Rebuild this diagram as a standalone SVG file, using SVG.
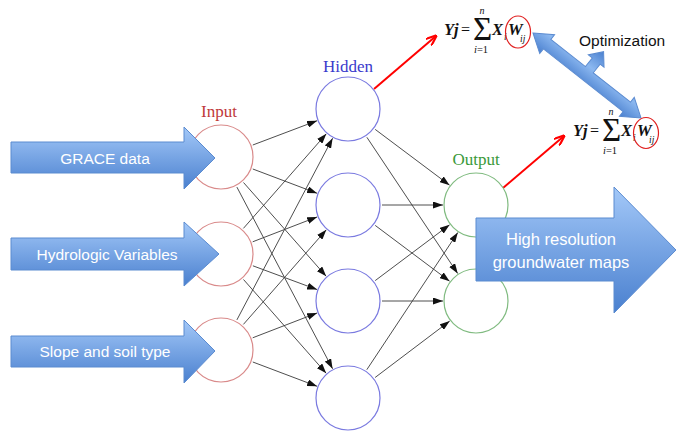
<svg xmlns="http://www.w3.org/2000/svg" width="676" height="431" viewBox="0 0 676 431">
<style>
.lbl{font-family:"Liberation Serif",serif;font-size:17px;text-anchor:middle}
.in{fill:none;stroke:#d98a8a;stroke-width:1.2}
.hid{fill:none;stroke:#7a7ae0;stroke-width:1.2}
.out{fill:none;stroke:#80bb80;stroke-width:1.2}
.conn{stroke:#3a3a3a;stroke-width:0.9;fill:none;marker-end:url(#ah)}
.red{stroke:#ff0000;stroke-width:2;fill:none;marker-end:url(#rh)}
.barrow{fill:url(#bg);stroke:#5b8bd0;stroke-width:1}
.atxt{font-family:"Liberation Sans",Arial,sans-serif;font-size:15.5px;fill:#ffffff;text-anchor:middle}
.m{font-family:"Liberation Serif",serif;fill:#111}
.mb{font-style:italic;font-weight:bold;font-size:16.5px}
.ms{font-style:italic;font-size:9.5px}
.sig{font-size:33px}
.circ{fill:none;stroke:#e02020;stroke-width:1.2}
</style>
<defs>
<linearGradient id="bg" x1="0" y1="0" x2="0" y2="1">
<stop offset="0" stop-color="#a3c8f8"/>
<stop offset="1" stop-color="#4a80cf"/>
</linearGradient>
<linearGradient id="bg2" x1="0" y1="0" x2="0" y2="1">
<stop offset="0" stop-color="#4a80cf"/>
<stop offset="0.5" stop-color="#8cb8f0"/>
<stop offset="1" stop-color="#4a80cf"/>
</linearGradient>
<marker id="ah" viewBox="0 0 10 7" refX="10" refY="3.5" markerWidth="10" markerHeight="7" markerUnits="userSpaceOnUse" orient="auto">
<path d="M0,0 L10,3.5 L0,7 z" fill="#111"/>
</marker>
<marker id="rh" viewBox="0 0 10 8" refX="9" refY="4" markerWidth="11" markerHeight="9" markerUnits="userSpaceOnUse" orient="auto">
<path d="M0,0 L10,4 L0,8" fill="none" stroke="#ff0000" stroke-width="2"/>
</marker>
</defs>
<rect width="676" height="431" fill="#ffffff"/>

<g id="connectors">
<line class="conn" x1="252.8" y1="145.0" x2="317.1" y2="120.7"/>
<line class="conn" x1="252.8" y1="169.0" x2="317.1" y2="193.3"/>
<line class="conn" x1="243.5" y1="182.5" x2="326.2" y2="276.3"/>
<line class="conn" x1="236.9" y1="187.1" x2="332.6" y2="368.8"/>
<line class="conn" x1="243.4" y1="228.4" x2="326.3" y2="133.8"/>
<line class="conn" x1="252.7" y1="241.8" x2="317.2" y2="216.9"/>
<line class="conn" x1="252.9" y1="265.8" x2="317.1" y2="289.6"/>
<line class="conn" x1="243.5" y1="279.5" x2="326.2" y2="373.3"/>
<line class="conn" x1="236.9" y1="319.9" x2="332.6" y2="138.2"/>
<line class="conn" x1="243.4" y1="324.4" x2="326.3" y2="229.8"/>
<line class="conn" x1="252.7" y1="337.8" x2="317.2" y2="312.9"/>
<line class="conn" x1="252.8" y1="362.0" x2="317.1" y2="386.3"/>
<line class="conn" x1="375.2" y1="129.4" x2="449.6" y2="185.2"/>
<line class="conn" x1="366.9" y1="137.3" x2="457.7" y2="273.5"/>
<line class="conn" x1="382" y1="205" x2="443" y2="205"/>
<line class="conn" x1="375.2" y1="225.4" x2="449.6" y2="281.2"/>
<line class="conn" x1="375.2" y1="280.6" x2="449.6" y2="224.8"/>
<line class="conn" x1="382" y1="301" x2="443" y2="301"/>
<line class="conn" x1="366.8" y1="369.7" x2="457.8" y2="232.5"/>
<line class="conn" x1="375.1" y1="377.5" x2="449.7" y2="321.1"/>
<line class="red" x1="374" y1="89" x2="436" y2="36"/>
<line class="red" x1="503" y1="188" x2="564" y2="136"/>
</g>

<g id="labels">
<text class="lbl" x="219" y="117" fill="#c0393b">Input</text>
<text class="lbl" x="348" y="72" fill="#3a3acc">Hidden</text>
<text class="lbl" x="476" y="165" fill="#3a9a3a">Output</text>
</g>

<g id="input1"><circle class="in" cx="221" cy="157" r="32"/></g>
<g id="input2"><circle class="in" cx="221" cy="254" r="32"/></g>
<g id="input3"><circle class="in" cx="221" cy="350" r="32"/></g>
<g id="hidden1"><circle class="hid" cx="348" cy="109" r="32"/></g>
<g id="hidden2"><circle class="hid" cx="348" cy="205" r="32"/></g>
<g id="hidden3"><circle class="hid" cx="348" cy="301" r="32"/></g>
<g id="hidden4"><circle class="hid" cx="348" cy="398" r="32"/></g>
<g id="output1"><circle class="out" cx="476" cy="205" r="32"/></g>
<g id="output2"><circle class="out" cx="476" cy="301" r="32"/></g>

<g id="grace">
<path class="barrow" d="M11,142 L184,142 L184,127 L215,158 L184,189 L184,173 L11,173 Z"/>
<text class="atxt" x="105" y="163.5">GRACE data</text>
</g>
<g id="hydro">
<path class="barrow" d="M11,238 L184,238 L184,222 L219,254 L184,286 L184,270 L11,270 Z"/>
<text class="atxt" x="107" y="259.5">Hydrologic Variables</text>
</g>
<g id="slope">
<path class="barrow" d="M11,336 L184,336 L184,320 L215,351 L184,383 L184,367 L11,367 Z"/>
<text class="atxt" x="105" y="356.5">Slope and soil type</text>
</g>
<g id="maps">
<path class="barrow" d="M476,218 L614,218 L614,187 L676,250 L614,313 L614,281 L476,281 Z"/>
<text class="atxt" x="561" y="245" style="font-size:16.5px">High resolution</text>
<text class="atxt" x="561" y="268" style="font-size:16.5px">groundwater maps</text>
</g>

<g id="optimization">
<path transform="translate(533,33) rotate(38.2)" fill="url(#bg2)" stroke="#5b8bd0" stroke-width="1" d="M0,0 L18,-12 L18,-6 L62,-6 L62,-17 L57,-17 L67,-29 L77,-17 L72,-17 L72,-6 L119.4,-6 L119.4,-12 L137.4,0 L119.4,12 L119.4,6 L18,6 L18,12 Z"/>
<text x="579" y="46" style="font-family:'Liberation Sans',Arial,sans-serif;font-size:15.5px;fill:#111">Optimization</text>
</g>

<g id="formula1" class="m">
<text class="mb" x="444" y="35">Yj</text>
<text x="461" y="35" style="font-size:16px">=</text>
<text class="sig" x="473" y="40">Σ</text>
<text x="482" y="14" style="font-size:10px;font-style:italic;text-anchor:middle">n</text>
<text x="481" y="53" style="font-size:10.5px;text-anchor:middle"><tspan font-style="italic">i</tspan>=1</text>
<text class="mb" x="492" y="35">X</text>
<text class="ms" x="504" y="40">i</text>
<text class="mb" x="508" y="35">W</text>
<text class="ms" x="520" y="42">ij</text>
<ellipse class="circ" cx="518" cy="32" rx="12.5" ry="16"/>
</g>
<g id="formula2" class="m" transform="translate(129,101)">
<text class="mb" x="444" y="35">Yj</text>
<text x="461" y="35" style="font-size:16px">=</text>
<text class="sig" x="473" y="40">Σ</text>
<text x="482" y="14" style="font-size:10px;font-style:italic;text-anchor:middle">n</text>
<text x="481" y="53" style="font-size:10.5px;text-anchor:middle"><tspan font-style="italic">i</tspan>=1</text>
<text class="mb" x="492" y="35">X</text>
<text class="ms" x="504" y="40">i</text>
<text class="mb" x="508" y="35">W</text>
<text class="ms" x="520" y="42">ij</text>
<ellipse class="circ" cx="517" cy="32" rx="12.5" ry="15.5"/>
</g>
</svg>
